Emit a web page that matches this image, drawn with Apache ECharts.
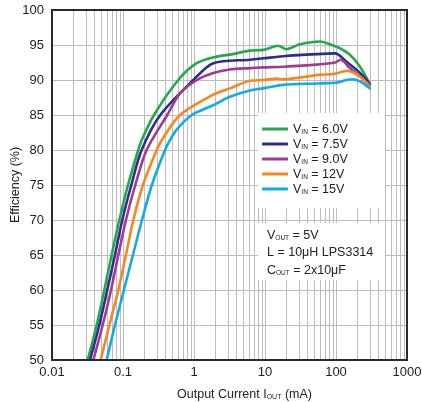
<!DOCTYPE html>
<html>
<head>
<meta charset="utf-8">
<script src="https://cdn.jsdelivr.net/npm/echarts@6/dist/echarts.min.js"></script>
<style>html,body{margin:0;padding:0;background:#fff}#c{width:422px;height:402px}</style>
</head>
<body>
<div id="c"></div>
<script>
// ---- data ----
const vinLabels = ['6.0V', '7.5V', '9.0V', '12V', '15V'];

const current60 = [0.0318, 0.0426, 0.0546, 0.0692, 0.0887, 0.1176, 0.164, 0.183, 0.273, 0.60, 1.09, 1.98, 3.5, 6.15, 9.5, 15.4, 19.8, 31, 59.6, 82, 115, 157, 218, 300];
const eff60     = [50, 55, 60, 65, 70, 75, 80, 81.4, 85, 90, 92.4, 93.3, 93.7, 94.2, 94.3, 94.9, 94.4, 95.1, 95.5, 95.1, 94.5, 93.6, 91.9, 89.4];

const current75 = [0.0343, 0.0464, 0.060, 0.077, 0.0977, 0.131, 0.183, 0.335, 0.98, 1.87, 6.15, 9.5, 18.1, 53.5, 96.8, 141, 218, 300];
const eff75     = [50, 55, 60, 65, 70, 75, 80, 85, 90, 92.4, 92.9, 93.1, 93.4, 93.7, 93.8, 92.6, 91.0, 89.4];

const current90 = [0.0382, 0.0518, 0.0678, 0.086, 0.110, 0.149, 0.215, 0.42, 0.636, 1.1, 1.87, 3.2, 6.15, 9.5, 18.1, 53.5, 96.8, 116, 157, 218, 300];
const eff90     = [50, 55, 60, 65, 70, 75, 80, 85, 88.1, 90, 91.0, 91.5, 91.7, 91.8, 91.9, 92.2, 92.5, 92.9, 91.7, 90.5, 89.3];

const current12 = [0.0485, 0.0643, 0.086, 0.110, 0.14, 0.191, 0.298, 0.351, 0.636, 1.87, 3.2, 6.15, 9.5, 14.5, 18, 53.5, 96.8, 141, 218, 300];
const eff12     = [50, 55, 60, 65, 70, 75, 80, 81.4, 85, 87.9, 88.8, 89.9, 90.0, 90.2, 90.1, 90.7, 90.9, 91.3, 90.5, 89.0];

const current15 = [0.0589, 0.077, 0.103, 0.138, 0.185, 0.255, 0.391, 0.459, 0.57, 0.93, 1.87, 3.2, 6.15, 9.5, 18, 53.5, 96.8, 166, 218, 300];
const eff15     = [50, 55, 60, 65, 70, 75, 80, 81.4, 82.9, 85, 86.4, 87.6, 88.5, 88.8, 89.3, 89.5, 89.6, 90.1, 89.8, 88.8];

const seriesColors = ['#23a84a', '#2b2e8c', '#a23a8f', '#f7861e', '#12aae6'];
const xDecades = [0.01, 0.1, 1, 10, 100];
const minorMultipliers = [2, 3, 4, 5, 6, 7, 8, 9];

const zip = (xs, ys) => xs.map((x, i) => [x, ys[i]]);
const curves = [zip(current60, eff60), zip(current75, eff75), zip(current90, eff90), zip(current12, eff12), zip(current15, eff15)];

const minorLines = [];
xDecades.forEach(d => minorMultipliers.forEach(m => minorLines.push({ xAxis: +(d * m).toPrecision(3) })));

const FONT = '"Liberation Sans", Arial, sans-serif';
const chart = echarts.init(document.getElementById('c'), null, { renderer: 'canvas' });

const series = curves.map((data, i) => ({
  name: vinLabels[i],
  type: 'line',
  data: data,
  symbol: 'none',
  smooth: 0.3,
  z: 5,
  lineStyle: { width: 2.6, color: seriesColors[i], cap: 'round', join: 'round' },
  itemStyle: { color: seriesColors[i] }
}));
series.push({
  name: 'minor-grid',
  type: 'line',
  data: [],
  z: 1,
  silent: true,
  markLine: {
    silent: true,
    symbol: 'none',
    label: { show: false },
    animation: false,
    lineStyle: { color: '#bdbdbd', width: 1, type: 'solid' },
    data: minorLines
  }
});

chart.setOption({
  animation: false,
  backgroundColor: '#fff',
  textStyle: { fontFamily: FONT },
  grid: { left: 52, right: 15, top: 10, bottom: 42, containLabel: false, outerBoundsMode: 'none',
    show: true, borderColor: '#2a2a2a', borderWidth: 2, backgroundColor: 'transparent', z: 10 },
  xAxis: {
    type: 'log', logBase: 10, min: 0.01, max: 1000,
    axisLine: { show: false },
    axisTick: { show: false },
    splitLine: { show: true, lineStyle: { color: '#bdbdbd', width: 1 } },
    axisLabel: { fontSize: 13, color: '#222', margin: 6, fontFamily: FONT,
      formatter: v => String(+(+v).toPrecision(3)) },
    name: '{t|Output Current I}{s|OUT}{t| (mA)}',
    nameLocation: 'middle', nameGap: 26, nameMoveOverlap: false,
    nameTextStyle: { padding: [0, 0, 0, 30],
      rich: {
        t: { fontSize: 12.5, color: '#222', fontFamily: FONT, verticalAlign: 'bottom', lineHeight: 15 },
        s: { fontSize: 7, color: '#222', fontFamily: FONT, verticalAlign: 'bottom', lineHeight: 10 }
      } }
  },
  yAxis: {
    type: 'value', min: 50, max: 100, interval: 5,
    axisLine: { show: false },
    axisTick: { show: false },
    splitLine: { show: true, lineStyle: { color: '#bdbdbd', width: 1 } },
    axisLabel: { fontSize: 13, color: '#222', margin: 8, fontFamily: FONT },
    name: 'Efficiency (%)', nameLocation: 'middle', nameGap: 30, nameMoveOverlap: false,
    nameTextStyle: { fontSize: 12.5, color: '#222', fontFamily: FONT }
  },
  legend: {
    orient: 'vertical', left: 262, top: 123,
    data: vinLabels,
    icon: 'roundRect', itemWidth: 26, itemHeight: 3, itemGap: 2,
    z: 20,
    padding: 0,
    formatter: name => '{v|V}{s|IN}{v| = ' + name + '}',
    textStyle: {
      rich: {
        v: { fontSize: 12.5, color: '#222', fontFamily: FONT, verticalAlign: 'bottom', lineHeight: 14 },
        s: { fontSize: 6.5, color: '#222', fontFamily: FONT, verticalAlign: 'bottom', lineHeight: 9 }
      }
    }
  },
  graphic: [
    { type: 'rect', z: 15, shape: { x: 258, y: 113, width: 127, height: 95 }, style: { fill: '#fff' } },
    { type: 'rect', z: 15, shape: { x: 258, y: 223, width: 127, height: 57 }, style: { fill: '#fff' } },
    { type: 'text', z: 20, left: 267, top: 229,
      style: {
        text: '{v|V}{s|OUT}{v| = 5V}\n{v|L = 10μH LPS3314}\n{v|C}{s|OUT}{v| = 2x10μF}',
        rich: {
          v: { fontSize: 12.5, fill: '#222', fontFamily: FONT, verticalAlign: 'bottom', lineHeight: 17.5 },
          s: { fontSize: 6.5, fill: '#222', fontFamily: FONT, verticalAlign: 'bottom', lineHeight: 12 }
        }
      } }
  ],
  series: series
});
</script>
</body>
</html>
